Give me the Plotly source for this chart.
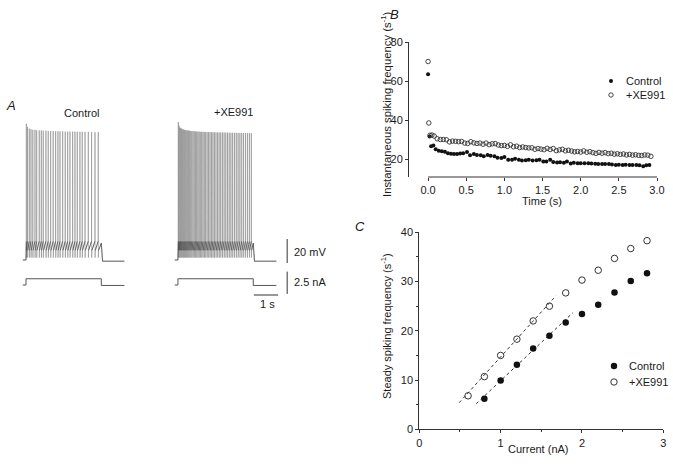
import plotly.graph_objects as go

W, H = 673, 468
FONT = "Liberation Sans"
INK = "#1a1a1a"

# ---------------- Panel B data: instantaneous spiking frequency vs time ----------------
b_time_ctrl = [0.00, 0.02, 0.04, 0.07, 0.10, 0.14, 0.18, 0.22, 0.26, 0.30, 0.34, 0.38, 0.42, 0.46,
               0.51, 0.55, 0.60, 0.64, 0.69, 0.73, 0.78, 0.82, 0.87, 0.91, 0.96, 1.00, 1.05, 1.10,
               1.14, 1.19, 1.23, 1.28, 1.32, 1.37, 1.42, 1.46, 1.51, 1.55, 1.60, 1.64, 1.69, 1.73,
               1.78, 1.82, 1.87, 1.91, 1.96, 2.00, 2.05, 2.10, 2.14, 2.19, 2.23, 2.28, 2.32, 2.37,
               2.41, 2.46, 2.50, 2.55, 2.59, 2.64, 2.68, 2.73, 2.77, 2.82, 2.86, 2.90]
b_freq_ctrl = [63.5, 31.5, 26.6, 27.0, 25.0, 24.2, 24.0, 23.8, 23.0, 22.7, 22.6, 22.6, 22.8, 23.0,
               23.6, 22.0, 22.6, 22.1, 21.9, 21.4, 22.1, 21.7, 21.4, 20.7, 20.6, 21.1, 19.6, 19.7,
               20.1, 19.6, 19.3, 19.4, 19.6, 19.2, 19.4, 19.6, 18.7, 18.8, 19.7, 18.5, 18.2, 18.3,
               18.1, 18.7, 17.7, 18.1, 17.9, 17.9, 17.8, 17.8, 17.7, 17.6, 17.5, 17.4, 17.4, 17.4,
               17.2, 17.0, 17.1, 17.0, 17.1, 16.9, 16.9, 16.9, 16.8, 16.3, 16.8, 17.0]
b_time_xe = [0.00, 0.01, 0.025, 0.05, 0.08, 0.12, 0.16, 0.20, 0.24, 0.28, 0.32, 0.36, 0.40, 0.44,
             0.48, 0.52, 0.56, 0.60, 0.64, 0.68, 0.72, 0.76, 0.80, 0.84, 0.88, 0.92, 0.96, 1.00,
             1.04, 1.08, 1.12, 1.16, 1.20, 1.24, 1.28, 1.32, 1.36, 1.40, 1.44, 1.48, 1.52, 1.56,
             1.60, 1.64, 1.68, 1.72, 1.76, 1.80, 1.84, 1.88, 1.92, 1.96, 2.00, 2.04, 2.08, 2.12,
             2.16, 2.20, 2.24, 2.28, 2.32, 2.36, 2.40, 2.44, 2.48, 2.52, 2.56, 2.60, 2.64, 2.68,
             2.72, 2.76, 2.80, 2.84, 2.88, 2.92]
b_freq_xe = [70.0, 38.5, 32.2, 32.3, 31.8, 30.4, 30.0, 30.0, 29.9, 28.8, 29.2, 29.1, 28.9, 29.0,
             28.2, 28.0, 28.9, 28.3, 28.0, 28.2, 27.6, 28.2, 27.4, 27.8, 27.9, 27.2, 26.9, 27.0,
             26.5, 27.3, 26.3, 26.6, 25.9, 26.2, 25.9, 25.7, 25.8, 25.0, 25.4, 25.1, 24.8, 25.5,
             24.9, 25.4, 24.3, 24.7, 25.0, 24.2, 24.5, 24.1, 23.7, 23.9, 23.6, 24.2, 23.5, 23.8,
             23.3, 22.9, 23.4, 23.0, 23.3, 22.8, 23.0, 22.5, 22.7, 22.4, 22.6, 22.1, 22.4, 22.0,
             22.2, 21.9, 21.8, 22.1, 22.0, 21.4]

# ---------------- Panel C data: steady spiking frequency vs current ----------------
c_current_ctrl = [0.8, 1.0, 1.2, 1.4, 1.6, 1.8, 2.0, 2.2, 2.4, 2.6, 2.8]
c_freq_ctrl = [6.2, 9.9, 13.1, 16.4, 19.0, 21.7, 23.4, 25.3, 27.8, 30.1, 31.7]
c_current_xe = [0.6, 0.8, 1.0, 1.2, 1.4, 1.6, 1.8, 2.0, 2.2, 2.4, 2.6, 2.8]
c_freq_xe = [6.8, 10.7, 15.0, 18.3, 22.0, 25.0, 27.7, 30.3, 32.3, 34.7, 36.7, 38.3]
c_fit_ctrl_x = [0.70, 1.89]
c_fit_ctrl_y = [5.2, 23.7]
c_fit_xe_x = [0.49, 1.68]
c_fit_xe_y = [5.4, 27.1]

# ---------------- Panel A data: spike times (s from step onset) and peaks (mV) ----------------
a_spikes_ctrl = [0.015, 0.06, 0.135, 0.205, 0.28, 0.37, 0.44, 0.545, 0.63, 0.71, 0.82, 0.915,
                 1.015, 1.12, 1.22, 1.315, 1.40, 1.51, 1.615, 1.715, 1.81, 1.92, 2.015, 2.11,
                 2.22, 2.315, 2.43, 2.565, 2.70, 2.84, 2.975]
a_peaks_ctrl = [53.5, 51.0, 49.5, 49.0, 48.5, 48.5, 48.0, 48.0, 48.0, 47.8, 47.8, 47.5, 47.5,
                47.5, 47.3, 47.3, 47.2, 47.2, 47.0, 47.0, 47.0, 47.0, 47.0, 46.8, 46.8, 46.8,
                46.8, 46.8, 46.5, 46.5, 46.5]
a_spikes_xe = [0.015, 0.045, 0.075, 0.11, 0.145, 0.185, 0.225, 0.265, 0.305, 0.345, 0.39, 0.435,
               0.48, 0.525, 0.57, 0.62, 0.67, 0.72, 0.77, 0.82, 0.87, 0.92, 0.975, 1.03, 1.085,
               1.14, 1.20, 1.26, 1.32, 1.38, 1.44, 1.50, 1.565, 1.63, 1.695, 1.76, 1.83, 1.90,
               1.97, 2.04, 2.11, 2.18, 2.25, 2.325, 2.40, 2.475, 2.55, 2.625, 2.70, 2.78, 2.86,
               2.94, 3.02]
a_peaks_xe = [55.0, 52.0, 50.5, 50.0, 49.5, 49.0, 48.8, 48.5, 48.3, 48.0, 48.0, 47.8, 47.8, 47.5,
              47.5, 47.4, 47.3, 47.2, 47.0, 47.0, 47.0, 46.8, 46.8, 46.8, 46.7, 46.7, 46.6, 46.6,
              46.5, 46.5, 46.5, 46.4, 46.4, 46.3, 46.3, 46.3, 46.2, 46.2, 46.2, 46.1, 46.1, 46.0,
              46.0, 46.0, 46.0, 45.9, 45.9, 45.9, 45.8, 45.8, 45.8, 45.7, 45.7]
a_rest_mV = -60.0
a_threshold_mV = -44.5
a_fast_ahp_mV = -58.0
a_slow_ahp_mV = -52.0
a_step_nA = 0.7
a_step_end_s = 3.1
a_trace_start_s = -0.13
a_trace_end_s = 4.05
a_xe_offset_s = 6.255   # horizontal placement of the +XE991 recording


def voltage_trace(spikes, peaks, offset):
    """Full membrane trace plus the sub-threshold portions (drawn darker)."""
    xs = [a_trace_start_s + offset, offset]
    ys = [a_rest_mV, a_rest_mV]
    sx = [a_trace_start_s + offset, offset]
    sy = [a_rest_mV, a_rest_mV]
    for t, p in zip(spikes, peaks):
        xs += [t - 0.004 + offset, t + offset, t + 0.004 + offset, t + 0.012 + offset]
        ys += [a_threshold_mV, p, a_fast_ahp_mV, a_slow_ahp_mV]
        sx += [t - 0.004 + offset, None, t + 0.012 + offset]
        sy += [a_threshold_mV, None, a_slow_ahp_mV]
    tail_x = [a_step_end_s + offset, a_step_end_s + 0.05 + offset, a_trace_end_s + offset]
    tail_y = [a_threshold_mV - 1.5, a_rest_mV - 1.0, a_rest_mV - 1.0]
    return xs + tail_x, ys + tail_y, sx + tail_x, sy + tail_y


def current_trace(offset):
    xs = [a_trace_start_s, 0, 0, a_step_end_s, a_step_end_s, a_trace_end_s]
    ys = [0, 0, a_step_nA, a_step_nA, -0.05, -0.05]
    return [x + offset for x in xs], ys


fig = go.Figure()

# Panel A traces
for spikes, peaks, off in [(a_spikes_ctrl, a_peaks_ctrl, 0.0), (a_spikes_xe, a_peaks_xe, a_xe_offset_s)]:
    vx, vy, sx, sy = voltage_trace(spikes, peaks, off)
    fig.add_trace(go.Scatter(x=vx, y=vy, mode="lines", xaxis="x3", yaxis="y3",
                             line=dict(color="#8c8c8c", width=0.6), showlegend=False,
                             hoverinfo="skip"))
    fig.add_trace(go.Scatter(x=sx, y=sy, mode="lines", xaxis="x3", yaxis="y3",
                             line=dict(color="#3c3c3c", width=0.65), showlegend=False,
                             hoverinfo="skip", connectgaps=False))
    cx, cy = current_trace(off)
    fig.add_trace(go.Scatter(x=cx, y=cy, mode="lines", xaxis="x3", yaxis="y4",
                             line=dict(color="#555", width=1), showlegend=False,
                             hoverinfo="skip"))

# Panel B
fig.add_trace(go.Scatter(x=b_time_ctrl, y=b_freq_ctrl, mode="markers", name="Control",
                         marker=dict(symbol="circle", size=4, color="#111"),
                         xaxis="x", yaxis="y", showlegend=False))
fig.add_trace(go.Scatter(x=b_time_xe, y=b_freq_xe, mode="markers", name="+XE991",
                         marker=dict(symbol="circle-open", size=4.5, color="#333",
                                     line=dict(width=0.9)),
                         xaxis="x", yaxis="y", showlegend=False))

# Panel C
fig.add_trace(go.Scatter(x=c_fit_xe_x, y=c_fit_xe_y, mode="lines", showlegend=False,
                         line=dict(color="#333", width=1, dash="dot"), xaxis="x2", yaxis="y2"))
fig.add_trace(go.Scatter(x=c_fit_ctrl_x, y=c_fit_ctrl_y, mode="lines", showlegend=False,
                         line=dict(color="#333", width=1, dash="dot"), xaxis="x2", yaxis="y2"))
fig.add_trace(go.Scatter(x=c_current_ctrl, y=c_freq_ctrl, mode="markers", name="Control",
                         marker=dict(symbol="circle", size=6.5, color="#111"),
                         xaxis="x2", yaxis="y2", showlegend=False))
fig.add_trace(go.Scatter(x=c_current_xe, y=c_freq_xe, mode="markers", name="+XE991",
                         marker=dict(symbol="circle-open", size=6.5, color="#333",
                                     line=dict(width=1)),
                         xaxis="x2", yaxis="y2", showlegend=False))


def px(x):
    return x / W


def py(y):
    return 1 - y / H


tickfont = dict(family=FONT, size=11, color=INK)
axis_common = dict(showgrid=False, zeroline=False, ticks="outside", ticklen=3, tickwidth=1,
                   tickcolor="#333", linecolor="#333", linewidth=1, tickfont=tickfont,
                   automargin=False)

fig.update_layout(
    width=W, height=H, margin=dict(l=0, r=0, t=0, b=0, autoexpand=False),
    paper_bgcolor="white", plot_bgcolor="white",
    font=dict(family=FONT, size=11, color=INK),
    showlegend=False,
    xaxis=dict(domain=[px(409), px(657)], range=[-0.25, 3.0], anchor="y", showline=False,
               tickvals=[0, 0.5, 1.0, 1.5, 2.0, 2.5, 3.0], tickformat=".1f", **axis_common),
    yaxis=dict(domain=[py(177), py(42)], range=[10.8, 80], anchor="x", showline=True,
               tick0=20, dtick=20, **axis_common),
    xaxis2=dict(domain=[px(419.3), px(663.3)], range=[0, 3], anchor="y2", showline=True,
                dtick=1, minor=dict(dtick=0.5, ticklen=2, ticks="outside", tickcolor="#333"),
                **axis_common),
    yaxis2=dict(domain=[py(429.3), py(232.3)], range=[0, 40], anchor="x2", showline=True,
                dtick=10, minor=dict(dtick=5, ticklen=2, ticks="outside", tickcolor="#333"),
                **axis_common),
    xaxis3=dict(domain=[0, px(370)], range=[-1.07, 14.16], anchor="y3", visible=False),
    yaxis3=dict(domain=[py(268), py(100)], range=[-66.67, 73.33], anchor="x3", visible=False),
    yaxis4=dict(domain=[py(300), py(268)], range=[-1.68, 1.906], anchor="x3", visible=False),
)

# B x-axis line starting at t = 0
fig.add_shape(type="line", xref="x", yref="y domain", x0=0, x1=3.0, y0=0, y1=0,
              line=dict(color="#333", width=1))

# Scale bars (panel A)
fig.add_shape(type="line", xref="x3", yref="y3", x0=10.75, x1=10.75, y0=-62.5, y1=-42.5,
              line=dict(color="#333", width=1))
fig.add_shape(type="line", xref="x3", yref="y4", x0=10.75, x1=10.75, y0=-1.0, y1=1.5,
              line=dict(color="#333", width=1))
fig.add_shape(type="line", xref="x3", yref="y4", x0=9.38, x1=10.38, y0=-1.12, y1=-1.12,
              line=dict(color="#333", width=1))


# Legend keys (symbols) for panels B and C
def legend_key(cx, cy, r, filled, lw):
    fig.add_shape(type="circle", xref="paper", yref="paper", xsizemode="pixel",
                  ysizemode="pixel", xanchor=px(cx), yanchor=py(cy),
                  x0=-r, x1=r, y0=-r, y1=r,
                  fillcolor="#111" if filled else "rgba(0,0,0,0)",
                  line=dict(color="#111" if filled else "#333", width=0 if filled else lw))


legend_key(611, 81, 2.0, True, 0)
legend_key(611, 95, 2.2, False, 0.9)
legend_key(614, 366, 3.2, True, 0)
legend_key(614, 382, 3.2, False, 1.0)

ann = [
    dict(text="<i>A</i>", x=11, y=106, size=13, anchor="center"),
    dict(text="<i>B</i>", x=394, y=15, size=13, anchor="center"),
    dict(text="<i>C</i>", x=360, y=226, size=13, anchor="center"),
    dict(text="Control", x=81, y=113, size=11, anchor="center"),
    dict(text="+XE991", x=233, y=112, size=11, anchor="center"),
    dict(text="20 mV", x=292, y=252, size=11, anchor="left"),
    dict(text="2.5 nA", x=292, y=282, size=11, anchor="left"),
    dict(text="1 s", x=267, y=304, size=11, anchor="center"),
    dict(text="Time (s)", x=542, y=201, size=11, anchor="center"),
    dict(text="Current (nA)", x=538, y=449, size=11, anchor="center"),
    dict(text="Control", x=624, y=81, size=11, anchor="left"),
    dict(text="+XE991", x=624, y=95, size=11, anchor="left"),
    dict(text="Control", x=627, y=366, size=11, anchor="left"),
    dict(text="+XE991", x=627, y=382, size=11, anchor="left"),
]
for a in ann:
    fig.add_annotation(text=a["text"], x=px(a["x"]), y=py(a["y"]), xref="paper", yref="paper",
                       showarrow=False, xanchor=a["anchor"], yanchor="middle",
                       font=dict(family=FONT, size=a["size"], color=INK))

fig.add_annotation(text="Instantaneous spiking frequency (s<sup>-1</sup>)", x=px(386), y=py(104),
                   xref="paper", yref="paper", showarrow=False, textangle=-90,
                   xanchor="center", yanchor="middle", font=dict(family=FONT, size=11.3, color=INK))
fig.add_annotation(text="Steady spiking frequency (s<sup>-1</sup>)", x=px(386), y=py(326),
                   xref="paper", yref="paper", showarrow=False, textangle=-90,
                   xanchor="center", yanchor="middle", font=dict(family=FONT, size=11, color=INK))

fig.write_html("out.html", config={"displayModeBar": False},
               post_script="document.body.style.margin='0';document.body.style.overflow='hidden';")
